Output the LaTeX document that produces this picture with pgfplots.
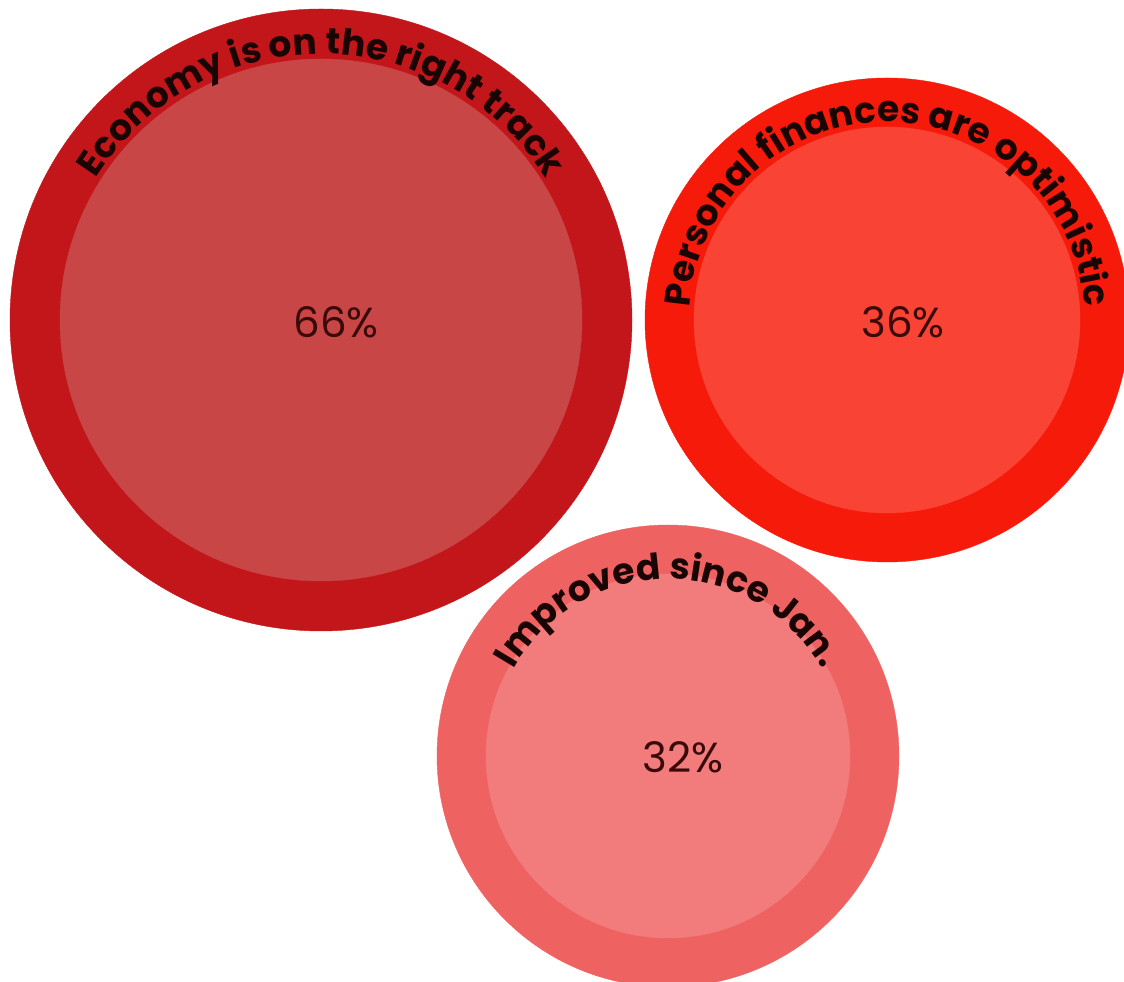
\documentclass[border=0pt]{standalone}
\usepackage{fontspec}
\setmainfont{Poppins}
\usepackage{pgfplots}
\pgfplotsset{compat=1.18}
\usetikzlibrary{decorations.text}
\definecolor{aout}{HTML}{C3161A}
\definecolor{ain}{HTML}{C94646}
\definecolor{bout}{HTML}{F61A0B}
\definecolor{bin}{HTML}{F94435}
\definecolor{cout}{HTML}{EE6262}
\definecolor{cin}{HTML}{F27C7C}
\definecolor{txt}{HTML}{1A0505}
\definecolor{lab}{HTML}{3A0A0A}
\newcommand\curvefont{\fontsize{36}{38}\selectfont\bfseries\color{txt}}
\begin{document}
\begin{tikzpicture}
\begin{axis}[
  hide axis, scale only axis,
  x=1pt, y=1pt,
  xmin=0, xmax=1124, ymin=0, ymax=982,
  clip=true,
]
% circles: (x, y from bottom); radius in pt
\addplot[aout, only marks, mark=*, mark size=311pt, mark options={solid, fill=aout, draw=aout}] coordinates {(321,662)};
\addplot[ain, only marks, mark=*, mark size=261pt, mark options={solid, fill=ain, draw=ain}] coordinates {(321,662)};
\addplot[bout, only marks, mark=*, mark size=242pt, mark options={solid, fill=bout, draw=bout}] coordinates {(887,662)};
\addplot[bin, only marks, mark=*, mark size=193pt, mark options={solid, fill=bin, draw=bin}] coordinates {(887,662)};
\addplot[cout, only marks, mark=*, mark size=231pt, mark options={solid, fill=cout, draw=cout}] coordinates {(668,226)};
\addplot[cin, only marks, mark=*, mark size=182pt, mark options={solid, fill=cin, draw=cin}] coordinates {(668,226)};
% value labels
\addplot[only marks, mark=none, nodes near coords, point meta=explicit symbolic,
  nodes near coords style={anchor=center, font=\fontsize{42}{44}\selectfont, text=lab}]
  coordinates {(336,660)[66\%] (903,660)[36\%] (683,225)[32\%]};
\coordinate (A) at (axis cs:55,662);
\coordinate (B) at (axis cs:689,662);
\coordinate (C) at (axis cs:491,226);
\coordinate (SW) at (rel axis cs:0,0);
\coordinate (NE) at (rel axis cs:1,1);
\end{axis}
% curved titles
\path[decorate, decoration={text along path, text align=center,
  text={|\curvefont|Economy is on the right track}}]
  (A) arc[start angle=180, end angle=0, radius=266pt];
\path[decorate, decoration={text along path, text align=center,
  text={|\curvefont|Personal finances are optimistic}}]
  (B) arc[start angle=180, end angle=0, radius=198pt];
\path[decorate, decoration={text along path, text align=center,
  text={|\curvefont|Improved since Jan.}}]
  (C) arc[start angle=180, end angle=0, radius=177pt];
\pgfresetboundingbox
\useasboundingbox (SW) rectangle (NE);
\end{tikzpicture}
\end{document}
